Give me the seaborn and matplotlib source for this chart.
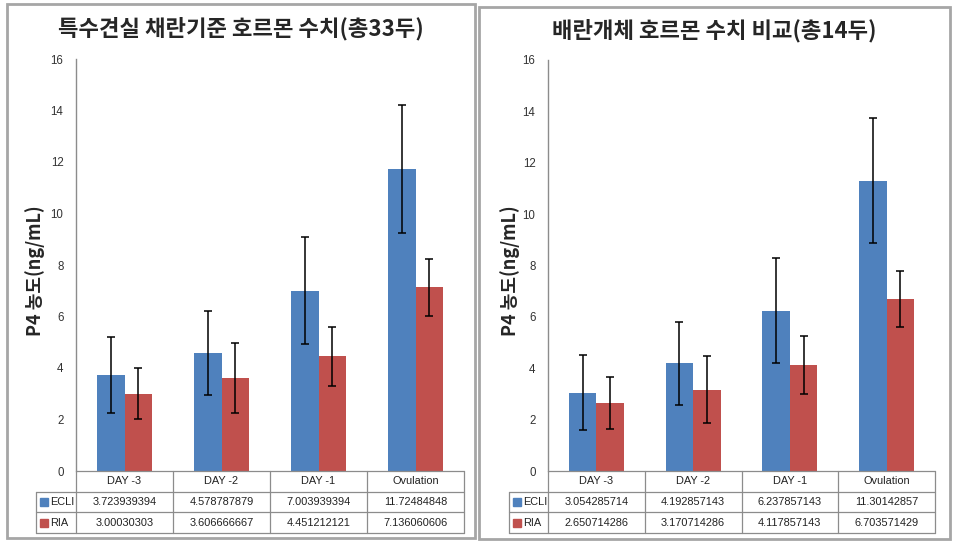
import matplotlib
matplotlib.use("Agg")
import matplotlib.pyplot as plt
import matplotlib.patches as mpatches
import seaborn as sns
import pandas as pd

categories = ["DAY -3", "DAY -2", "DAY -1", "Ovulation"]
series = ["ECLI", "RIA"]

left_title = "특수견실 채란기준 호르몬 수치(총33두)"
left_ecli = [3.723939394, 4.578787879, 7.003939394, 11.72484848]
left_ria = [3.00030303, 3.606666667, 4.451212121, 7.136060606]
left_ecli_err = [1.48, 1.63, 2.07, 2.48]
left_ria_err = [1.0, 1.35, 1.15, 1.1]

right_title = "배란개체 호르몬 수치 비교(총14두)"
right_ecli = [3.054285714, 4.192857143, 6.237857143, 11.30142857]
right_ria = [2.650714286, 3.170714286, 4.117857143, 6.703571429]
right_ecli_err = [1.47, 1.62, 2.05, 2.44]
right_ria_err = [1.0, 1.3, 1.13, 1.08]

ylabel = "P4 농도(ng/mL)"
yticks = [0, 2, 4, 6, 8, 10, 12, 14, 16]

colors = {"ECLI": "#4F81BD", "RIA": "#C0504D"}

sns.set_style("white")
plt.rcParams["font.family"] = ["Noto Sans CJK KR", "DejaVu Sans"]

W, H = 959, 546
fig = plt.figure(figsize=(W / 100, H / 100), dpi=100)

def fx(px):
    return px / W

def fy(py):
    return 1 - py / H

# panel borders
for (x0, y0, x1, y1) in [(7, 4, 475, 538), (479, 7, 950, 539)]:
    fig.add_artist(mpatches.Rectangle((fx(x0), fy(y1)), fx(x1 - x0), (y1 - y0) / H,
                                      transform=fig.transFigure, fill=False,
                                      edgecolor="#a6a6a6", linewidth=2))

def panel(ax_rect, title, title_xy, ylab_x, ecli, ria, ecli_err, ria_err, leg_left_px):
    ax = fig.add_axes(ax_rect)
    df = pd.DataFrame({
        "cat": categories * 2,
        "series": [series[0]] * 4 + [series[1]] * 4,
        "val": list(ecli) + list(ria),
    })
    sns.barplot(data=df, x="cat", y="val", hue="series", order=categories,
                hue_order=series, palette=colors, width=0.57, errorbar=None,
                saturation=1, legend=False, linewidth=0, ax=ax)
    errs = [ecli_err, ria_err]
    for cont, err in zip(ax.containers, errs):
        xs = [p.get_x() + p.get_width() / 2 for p in cont.patches]
        hs = [p.get_height() for p in cont.patches]
        ax.errorbar(xs, hs, yerr=err, fmt="none", ecolor="black",
                    elinewidth=1.1, capsize=3, capthick=1.1)
    ax.set_ylim(0, 16)
    ax.set_xlim(-0.5, 3.5)
    ax.set_yticks(yticks)
    ax.set_yticklabels([str(t) for t in yticks], fontsize=8.3, color="#333333",
                       family=["Liberation Sans"])
    ax.tick_params(axis="y", length=0, pad=9)
    ax.set_xticks([])
    ax.set_xlabel("")
    ax.set_ylabel("")
    for s in ["top", "right", "bottom"]:
        ax.spines[s].set_visible(False)
    ax.spines["left"].set_color("#8c8c8c")
    ax.spines["left"].set_linewidth(1)

    # table below axes
    bbox = ax.get_position()
    ax_w_px = bbox.width * W
    ax_h_px = bbox.height * H
    row_h = 20.7 / ax_h_px
    leg_left = (leg_left_px - bbox.x0 * W) / ax_w_px
    lc = "#8c8c8c"
    tr = ax.transAxes
    kw = dict(transform=tr, color=lc, linewidth=0.9, clip_on=False)
    # horizontal lines
    ax.plot([0, 1], [0, 0], **kw)
    for k in (1, 2, 3):
        ax.plot([leg_left, 1], [-k * row_h, -k * row_h], **kw)
    # vertical lines
    ax.plot([leg_left, leg_left], [-row_h, -3 * row_h], **kw)
    for j in range(5):
        ax.plot([j / 4, j / 4], [0, -3 * row_h], **kw)
    tfont = dict(fontsize=7.9, color="#222222", family=["Liberation Sans"],
                 transform=tr, ha="center", va="center", clip_on=False)
    for j, c in enumerate(categories):
        ax.text((j + 0.5) / 4, -0.5 * row_h, c, **tfont)
    for i, (name, vals) in enumerate([(series[0], ecli), (series[1], ria)]):
        yc = -(1.5 + i) * row_h
        for j, v in enumerate(vals):
            ax.text((j + 0.5) / 4, yc, f"{v:.10g}", **tfont)
        sq_x = leg_left + 8 / ax_w_px
        ax.plot([sq_x], [yc], marker="s", markersize=5.5, color=colors[name],
                transform=tr, clip_on=False, linestyle="none")
        ax.text(sq_x + 6 / ax_w_px, yc, name, fontsize=7.9, color="#222222",
                family=["Liberation Sans"], transform=tr, ha="left",
                va="center", clip_on=False)

    fig.text(fx(title_xy[0]), fy(title_xy[1]), title, fontsize=16,
             fontweight="bold", ha="center", va="center",
             family=["Noto Sans CJK KR", "DejaVu Sans"])
    fig.text(fx(ylab_x), fy(271), ylabel, fontsize=13, fontweight="bold",
             rotation=90, ha="center", va="center",
             family=["Noto Sans CJK KR", "DejaVu Sans"])
    return ax

panel([fx(76), fy(471), fx(464 - 76), (471 - 59) / H], left_title, (241, 29), 35,
      left_ecli, left_ria, left_ecli_err, left_ria_err, 36)
panel([fx(548), fy(471), fx(935 - 548), (471 - 60) / H], right_title, (714, 31), 510,
      right_ecli, right_ria, right_ecli_err, right_ria_err, 509)

fig.savefig("out.png", dpi=100)
